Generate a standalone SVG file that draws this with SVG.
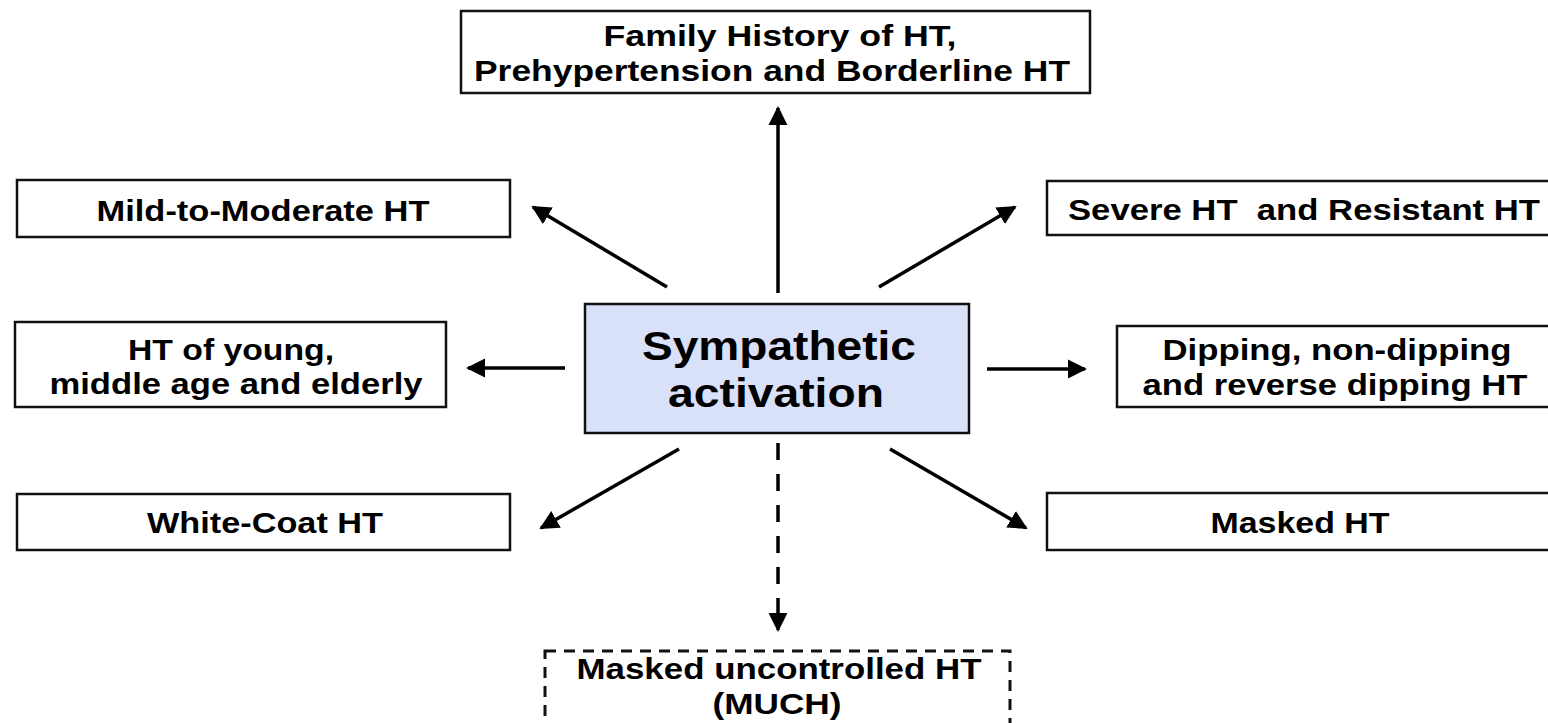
<svg xmlns="http://www.w3.org/2000/svg" width="1548" height="723" viewBox="0 0 1548 723">
<defs>
<style>
.box{fill:#fff;stroke:#111;stroke-width:2.5}
.t{font-family:"Liberation Sans",Arial,sans-serif;font-weight:bold;font-size:30px;fill:#000;text-anchor:middle;white-space:pre}
.big{font-size:41px}
.c{stroke:#000;stroke-width:3.5;fill:none}
</style>
<marker id="ah" viewBox="0 0 10 10" refX="9" refY="5" markerWidth="5.5" markerHeight="5.5" orient="auto" markerUnits="strokeWidth">
<path d="M0,0 L10,5 L0,10 z" fill="#000"/>
</marker>
</defs>
<rect width="1548" height="723" fill="#fff"/>
<g id="connectors">
<line class="c" x1="778" y1="293" x2="778" y2="108" marker-end="url(#ah)"/>
<line class="c" x1="667" y1="287" x2="533" y2="207" marker-end="url(#ah)"/>
<line class="c" x1="565" y1="368" x2="468" y2="368" marker-end="url(#ah)"/>
<line class="c" x1="679" y1="449" x2="541" y2="528" marker-end="url(#ah)"/>
<line class="c" x1="879" y1="287" x2="1015" y2="207" marker-end="url(#ah)"/>
<line class="c" x1="987" y1="369" x2="1085" y2="369" marker-end="url(#ah)"/>
<line class="c" x1="890" y1="449" x2="1026" y2="528" marker-end="url(#ah)"/>
<line class="c" x1="778" y1="443" x2="778" y2="630" stroke-dasharray="17,14" marker-end="url(#ah)"/>
</g>
<g id="family">
<rect class="box" x="461" y="11" width="629" height="82"/>
<text class="t" x="780" y="46" textLength="353" lengthAdjust="spacingAndGlyphs">Family History of HT,</text>
<text class="t" x="772" y="81" textLength="596" lengthAdjust="spacingAndGlyphs">Prehypertension and Borderline HT</text>
</g>
<g id="mild">
<rect class="box" x="17" y="180" width="493" height="57"/>
<text class="t" x="263" y="221" textLength="333" lengthAdjust="spacingAndGlyphs">Mild-to-Moderate HT</text>
</g>
<g id="severe">
<rect class="box" x="1047" y="181" width="520" height="54"/>
<text class="t" x="1304" y="220" textLength="472" lengthAdjust="spacingAndGlyphs">Severe HT  and Resistant HT</text>
</g>
<g id="young">
<rect class="box" x="15" y="322" width="431" height="85"/>
<text class="t" x="231" y="360" textLength="206" lengthAdjust="spacingAndGlyphs">HT of young,</text>
<text class="t" x="236" y="394" textLength="373" lengthAdjust="spacingAndGlyphs">middle age and elderly</text>
</g>
<g id="sympathetic">
<rect x="585" y="304" width="384" height="129" fill="#d9e1f8" stroke="#111" stroke-width="2.5"/>
<text class="t big" x="779" y="360" textLength="274" lengthAdjust="spacingAndGlyphs">Sympathetic</text>
<text class="t big" x="776" y="407" textLength="216" lengthAdjust="spacingAndGlyphs">activation</text>
</g>
<g id="dipping">
<rect class="box" x="1117" y="326" width="450" height="81"/>
<text class="t" x="1337" y="360" textLength="349" lengthAdjust="spacingAndGlyphs">Dipping, non-dipping</text>
<text class="t" x="1335" y="395" textLength="385" lengthAdjust="spacingAndGlyphs">and reverse dipping HT</text>
</g>
<g id="whitecoat">
<rect class="box" x="17" y="494" width="493" height="56"/>
<text class="t" x="265" y="533" textLength="236" lengthAdjust="spacingAndGlyphs">White-Coat HT</text>
</g>
<g id="masked">
<rect class="box" x="1047" y="493" width="520" height="57"/>
<text class="t" x="1300" y="533" textLength="179" lengthAdjust="spacingAndGlyphs">Masked HT</text>
</g>
<g id="much">
<rect x="545" y="651" width="465" height="90" fill="#fff" stroke="#111" stroke-width="3" stroke-dasharray="11,8"/>
<text class="t" x="779" y="679" textLength="405" lengthAdjust="spacingAndGlyphs">Masked uncontrolled HT</text>
<text class="t" x="777" y="714" textLength="129" lengthAdjust="spacingAndGlyphs">(MUCH)</text>
</g>
</svg>
